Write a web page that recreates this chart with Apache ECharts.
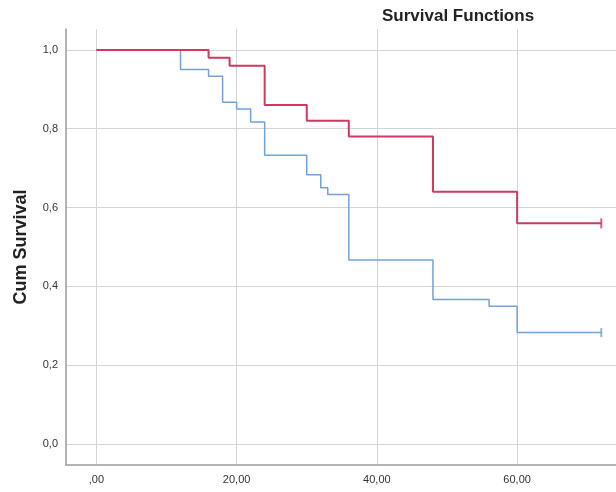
<!DOCTYPE html>
<html>
<head>
<meta charset="utf-8">
<script src="https://cdn.jsdelivr.net/npm/echarts@6/dist/echarts.min.js"></script>
<style>html,body{margin:0;padding:0;background:#fff}#c{width:616px;height:492px}</style>
</head>
<body>
<div id="c"></div>
<script>
// Kaplan-Meier step data: [time, cumulative survival]
const redTimes = [0, 16, 19, 24, 30, 36, 48, 60, 72];
const redSurv  = [1.0, 0.98, 0.96, 0.86, 0.82, 0.78, 0.64, 0.56, 0.56];
const blueTimes = [0, 12, 16, 18, 20, 22, 24, 30, 32, 33, 36, 48, 56, 60, 72];
const blueSurv  = [1.0, 0.95, 0.933, 0.867, 0.85, 0.817, 0.733, 0.683, 0.65, 0.633, 0.467, 0.367, 0.35, 0.283, 0.283];
const redCensor = [[72, 0.56]];
const blueCensor = [[72, 0.283]];
const xTicks = [0, 20, 40, 60];
const yTicks = [0, 0.2, 0.4, 0.6, 0.8, 1.0];

const RED = '#d0385f', BLUE = '#73a1d6';
const zip = (a, b) => a.map((v, i) => [v, b[i]]);

const chart = echarts.init(document.getElementById('c'));
chart.setOption({
  animation: false,
  backgroundColor: '#fff',
  textStyle: { fontFamily: 'Liberation Sans, Arial, sans-serif' },
  title: {
    text: 'Survival Functions', left: 377, top: 3,
    textStyle: { fontSize: 17, fontWeight: 'bold', color: '#222' }
  },
  grid: { left: 66, right: 0, top: 29, bottom: 27, containLabel: false },
  xAxis: {
    type: 'value', min: -4.33, max: 74.1,
    axisLine: { show: true, onZero: false, lineStyle: { color: '#9a9a9a', width: 1.5 } },
    axisTick: { show: false, customValues: xTicks },
    axisLabel: {
      customValues: xTicks, color: '#333', fontSize: 11, margin: 9,
      formatter: v => (v === 0 ? ',00' : v.toFixed(2).replace('.', ','))
    },
    splitLine: { show: true, lineStyle: { color: '#d4d4d4', width: 1 } }
  },
  yAxis: {
    type: 'value', min: -0.053, max: 1.053,
    name: 'Cum Survival', nameLocation: 'middle', nameGap: 36,
    nameTextStyle: { fontSize: 18, fontWeight: 'bold', color: '#222' },
    axisLine: { show: true, onZero: false, lineStyle: { color: '#9a9a9a', width: 1.5 } },
    axisTick: { show: false, customValues: yTicks },
    axisLabel: {
      customValues: yTicks, color: '#333', fontSize: 11, margin: 8,
      formatter: v => v.toFixed(1).replace('.', ',')
    },
    splitLine: { show: true, lineStyle: { color: '#d4d4d4', width: 1 } }
  },
  series: [
    { type: 'line', step: 'end', data: zip(blueTimes, blueSurv), showSymbol: false,
      lineStyle: { color: BLUE, width: 1.5 }, z: 3 },
    { type: 'line', step: 'end', data: zip(redTimes, redSurv), showSymbol: false,
      lineStyle: { color: RED, width: 2 }, z: 4 },
    { type: 'scatter', data: blueCensor, symbol: 'rect', symbolSize: [2, 9],
      itemStyle: { color: BLUE }, z: 5 },
    { type: 'scatter', data: redCensor, symbol: 'rect', symbolSize: [2, 10],
      itemStyle: { color: RED }, z: 5 }
  ]
});
</script>
</body>
</html>
